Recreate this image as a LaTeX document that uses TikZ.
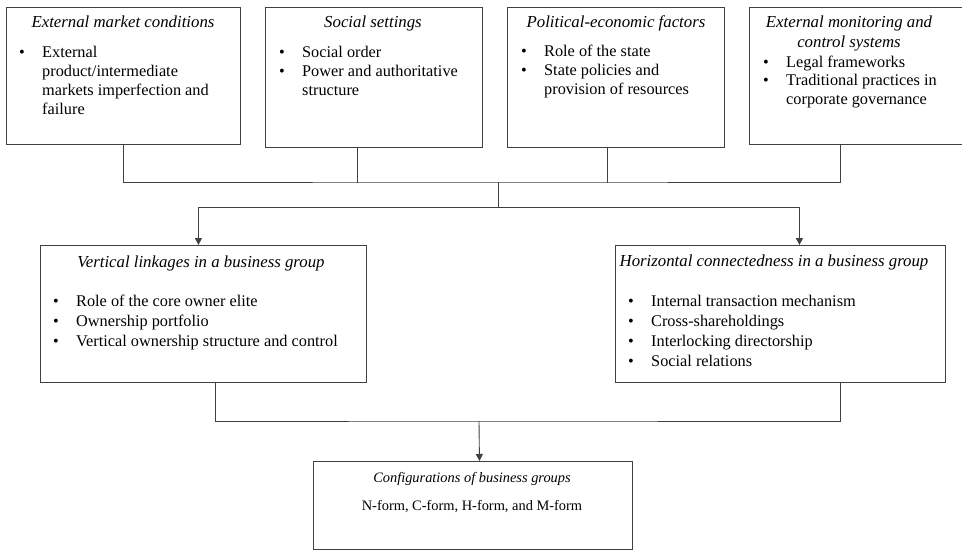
\documentclass[tikz,border=0pt]{standalone}
\usepackage{fontspec}
\setmainfont{Liberation Serif}
\usetikzlibrary{arrows.meta,positioning}

% bullet lines with hanging indent
\newcommand{\bul}[1]{\par\noindent\hskip-23pt\hbox to 23pt{\textbullet\hfil}#1}
\newcommand{\blist}[2]{\vtop{\hsize=#1\raggedright\leftskip=23pt\hyphenpenalty=10000 #2}}

\tikzset{
    box/.style={draw=black!75, line width=0.9pt, inner sep=0pt, anchor=north west},
    head/.style={font=\fontsize{16.8}{20}\selectfont\itshape, anchor=base, inner sep=0pt},
    list/.style={anchor=base west, inner sep=0pt},
    wire/.style={draw=black!75, line width=0.9pt},
    feed/.style={wire, -{Triangle[length=7pt,width=7pt]}},
}

\begin{document}
\fontsize{16.3}{19}\selectfont
\begin{tikzpicture}[x=1pt, y=-1pt]
    \useasboundingbox (0,0) rectangle (962,551);

    % top row
    \node[box, minimum width=234pt, minimum height=137pt] (ext) at (6,7) {};
    \node[box, minimum width=217pt, minimum height=140pt] (soc) at (265,7) {};
    \node[box, minimum width=217pt, minimum height=140pt] (pol) at (507,7) {};
    \node[box, minimum width=216pt, minimum height=137pt] (mon) at (749,7) {};

    \node[head] (extH) at (123,28) {External market conditions};
    \node[head] (socH) at (373,28) {Social settings};
    \node[head] (polH) at (616,28) {Political-economic factors};
    \node[head] (monH) at (849,28) {\vtop{\hsize=200pt\centering External monitoring and\par control systems}};

    \node[list] (extL) at (19,58)
        {\blist{209pt}{\bul{External product/intermediate markets imperfection and failure}}};
    \node[list] (socL) at (279,58)
        {\blist{191pt}{\bul{Social order}\bul{Power and authoritative structure}}};
    \node[list] (polL) at (521,57)
        {\blist{184pt}{\bul{Role of the state}\bul{State policies and provision of resources}}};
    \node[list] (monL) at (763,67)
        {\blist{187pt}{\bul{Legal frameworks}\bul{Traditional practices in corporate governance}}};

    % middle row
    \node[box, minimum width=326pt, minimum height=137pt] (vert) at (40,245) {};
    \node[box, minimum width=330pt, minimum height=137pt] (hor) at (615,245) {};

    \node[head] (vertH) at (201,267) {Vertical linkages in a business group};
    \node[head] (horH) at (774,266) {Horizontal connectedness in a business group};

    \node[list, font=\fontsize{16.3}{20}\selectfont] (vertL) at (53,306)
        {\blist{300pt}{\bul{Role of the core owner elite}\bul{Ownership portfolio}\bul{Vertical ownership structure and control}}};
    \node[list, font=\fontsize{16.3}{20.3}\selectfont] (horL) at (628,306)
        {\blist{300pt}{\bul{Internal transaction mechanism}\bul{Cross-shareholdings}\bul{Interlocking directorship}\bul{Social relations}}};

    % bottom
    \node[box, minimum width=319pt, minimum height=88pt] (conf) at (313,461) {};
    \node[head, font=\fontsize{14.4}{17}\selectfont\itshape] (confH) at (472,482) {Configurations of business groups};
    \node[anchor=base, inner sep=0pt, font=\fontsize{14.4}{17}\selectfont] (confL) at (472,510) {N-form, C-form, H-form, and M-form};

    % connectors
    \coordinate (topbus) at (498,182);
    \coordinate (midbus) at (498,207);
    \coordinate (lowbus) at (479,421);

    \draw[wire] (ext.south) |- (topbus) -| ([xshift=-17pt]mon.south);
    \draw[wire] ([xshift=-16.5pt]soc.south) -- ++(0,35);
    \draw[wire] ([xshift=-8.5pt]pol.south) -- ++(0,35);
    \draw[wire] (topbus) -- (midbus);
    \draw[feed] (midbus) -| ([xshift=-5pt]vert.north);
    \draw[feed] (midbus) -| ([xshift=19pt]hor.north);

    \draw[wire] ([xshift=12pt]vert.south) |- (lowbus) -| ([xshift=60pt]hor.south);
    \draw[feed] (lowbus) -- ([xshift=6.5pt]conf.north);
\end{tikzpicture}
\end{document}
